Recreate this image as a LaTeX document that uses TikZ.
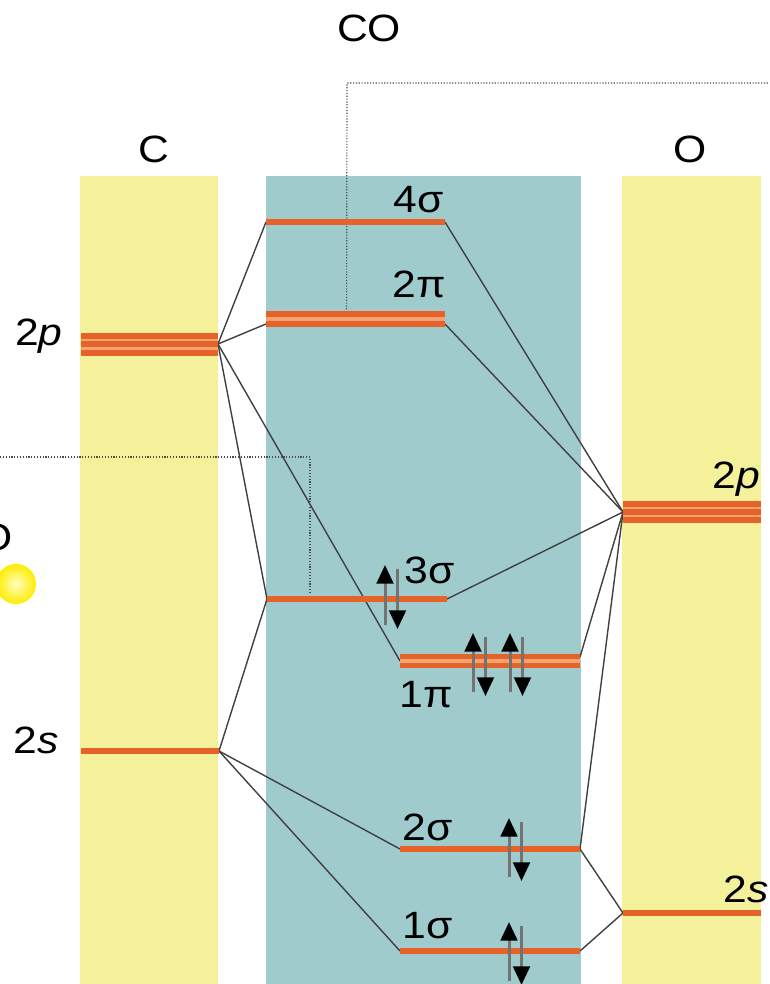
\documentclass[tikz,border=0pt]{standalone}
\usepackage{fontspec}
\setmainfont[FakeStretch=1.12]{Liberation Sans}
\usetikzlibrary{arrows.meta, calc}

\definecolor{atomyellow}{RGB}{245,241,155}
\definecolor{moteal}{RGB}{160,203,205}
\definecolor{lvlorange}{RGB}{230,98,40}
\definecolor{lvllight}{RGB}{242,165,115}

\begin{document}
\begin{tikzpicture}[x=0.3mm, y=-0.3mm, font=\fontsize{32.5}{38}\selectfont]
        % --- STYLES ---
        \tikzset{
            column/.style={fill=#1, draw=none},
            level/.style={draw=lvlorange, line width=1.6mm},
            band/.style={draw=lvllight, line width=#1},
            link/.style={draw=black!75, line width=0.42mm},
            guide/.style={draw=black!70, line width=0.35mm, dash pattern=on 0.35mm off 0.5mm},
            spin/.style={draw=black!55, line width=0.9mm, -{Triangle[length=5.6mm, width=5mm, color=black, fill=black]}},
            lbl/.style={inner sep=0pt, anchor=base}
        }

        \clip (0,0) rectangle (769,984);

        % --- COLUMNS ---
        \fill [column=atomyellow] (80,176) rectangle (218,984);
        \fill [column=moteal] (266,176) rectangle (581,984);
        \fill [column=atomyellow] (622,176) rectangle (761,984);

        % --- LEVEL ENDS ---
        \coordinate (c2pL) at (81,344);  \coordinate (c2pR) at (218,344);
        \coordinate (c2sL) at (81,751);  \coordinate (c2sR) at (219,751);
        \coordinate (o2pL) at (623,512); \coordinate (o2pR) at (761,512);
        \coordinate (o2sL) at (623,913); \coordinate (o2sR) at (761,913);

        \coordinate (s4L) at (266,222);  \coordinate (s4R) at (445,222);
        \coordinate (p2L) at (266,324);  \coordinate (p2R) at (445,324);
        \coordinate (s3L) at (267,599);  \coordinate (s3R) at (447,599);
        \coordinate (p1L) at (400,661);  \coordinate (p1R) at (580,661);
        \coordinate (s2L) at (400,849);  \coordinate (s2R) at (580,849);
        \coordinate (s1L) at (400,951);  \coordinate (s1R) at (580,951);

        % --- GUIDES ---
        \coordinate (guide_top) at (347,83);
        \coordinate (guide_mid) at (310,457);
        \draw [guide] ($(p2L)!0.45!(p2R)+(0,-9)$) -- (guide_top) -- (769,83);
        \draw [guide] (0,457) -- (guide_mid) -- (310,593);

        % --- CORRELATION LINES ---
        \draw [link] (c2pR) -- (s4L);
        \draw [link] (c2pR) -- (p2L);
        \draw [link] (c2pR) -- (s3L);
        \draw [link] (c2pR) -- (p1L);
        \draw [link] (c2sR) -- (s3L);
        \draw [link] (c2sR) -- (s2L);
        \draw [link] (c2sR) -- (s1L);

        \draw [link] (o2pL) -- (s4R);
        \draw [link] (o2pL) -- (p2R);
        \draw [link] (o2pL) -- (s3R);
        \draw [link] (o2pL) -- ($(p1R)+(0,-4)$);
        \draw [link] (o2pL) -- (s2R);
        \draw [link] (o2sL) -- (s2R);
        \draw [link] (o2sL) -- (s1R);

        % --- LEVELS ---
        \draw [band=6mm] (c2pL) -- (c2pR);
        \foreach \dy in {-8,0,9}
            \draw [level] ($(c2pL)+(0,\dy)$) -- ($(c2pR)+(0,\dy)$);
        \draw [level] (c2sL) -- (c2sR);

        \draw [band=6mm] (o2pL) -- (o2pR);
        \foreach \dy in {-8,0,8}
            \draw [level] ($(o2pL)+(0,\dy)$) -- ($(o2pR)+(0,\dy)$);
        \draw [level] (o2sL) -- (o2sR);

        \draw [level] (s4L) -- (s4R);
        \draw [band=4mm] ($(p2L)+(0,-5)$) -- ($(p2R)+(0,-5)$);
        \foreach \dy in {-10,0}
            \draw [level] ($(p2L)+(0,\dy)$) -- ($(p2R)+(0,\dy)$);
        \draw [level] (s3L) -- (s3R);
        \draw [band=4mm] (p1L) -- (p1R);
        \foreach \dy in {-4.5,4.5}
            \draw [level] ($(p1L)+(0,\dy)$) -- ($(p1R)+(0,\dy)$);
        \draw [level] (s2L) -- (s2R);
        \draw [level] (s1L) -- (s1R);

        % --- ELECTRONS ---
        \foreach \x/\ya/\yb in {385/565/625, 473/633/692, 510/633/692, 509/818/877, 509/922/981} {
            \draw [spin] (\x,\yb) -- (\x,\ya);
            \draw [spin] (\x+12.5,\ya+4) -- (\x+12.5,\yb+4);
        }

        % --- LABELS ---
        \node [lbl] (lbl_CO) at (369,42) {CO};
        \node [lbl] (lbl_C) at (154,162) {C};
        \node [lbl] (lbl_O) at (690,162) {O};

        \node [lbl] (lbl_c2p) at (39,345) {2\textit{p}};
        \node [lbl] (lbl_c2s) at (36,753) {2\textit{s}};
        \node [lbl] (lbl_o2p) at (736,488) {2\textit{p}};
        \node [lbl] (lbl_o2s) at (746,902) {2\textit{s}};

        \node [lbl] (lbl_s4) at (419,212) {4σ};
        \node [lbl] (lbl_p2) at (419,297) {2π};
        \node [lbl] (lbl_s3) at (430,583) {3σ};
        \node [lbl] (lbl_p1) at (426,707) {1π};
        \node [lbl] (lbl_s2) at (428,840) {2σ};
        \node [lbl] (lbl_s1) at (428,938) {1σ};

        % --- EDGE OF NEIGHBOUR PANEL ---
        \node [inner sep=0pt, anchor=base east] (lbl_edgeO) at (13,550) {O};
        \shade [inner color=yellow!25, outer color=yellow!85!orange] (16,584) circle (20);

\end{tikzpicture}
\end{document}
